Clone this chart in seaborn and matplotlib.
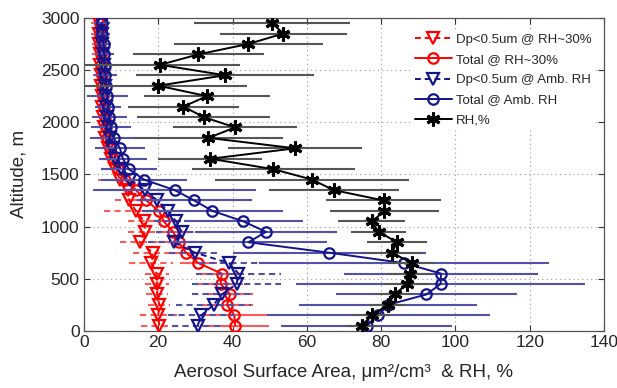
import matplotlib
matplotlib.use("Agg")
import matplotlib.pyplot as plt
import seaborn as sns

# ---------------- data (altitude ascending) ----------------
altitude = [50, 150, 250, 350, 450, 550, 650, 750, 850, 950,
            1050, 1150, 1250, 1350, 1450, 1550, 1650, 1750, 1850, 1950,
            2050, 2150, 2250, 2350, 2450, 2550, 2650, 2750, 2850, 2950]

dp_rh30 = [20.3, 20.0, 20.3, 19.7, 19.6, 19.6, 18.1, 18.6, 15.0, 16.5,
           16.2, 14.0, 12.2, 11.9, 9.7, 8.5, 7.2, 6.5, 5.8, 5.5,
           5.2, 5.0, 4.8, 4.6, 4.5, 4.4, 4.2, 4.1, 4.0, 4.0]
dp_rh30_err = [5, 5, 3, 3, 3.2, 3.2, 6, 5.3, 5.2, 4.5,
               4.4, 8.5, 3.8, 5, 6, 4, 3, 3, 2.5, 2.5,
               2, 2, 2, 2, 2, 2, 2, 2, 2, 2]

tot_rh30 = [40.7, 40.5, 38.5, 39.4, 36.8, 37.1, 30.8, 27.5, 25.5, 24.0,
            21.5, 20.2, 16.8, 14.0, 11.0, 9.2, 7.8, 7.0, 6.2, 6.0,
            5.6, 5.4, 5.1, 5.0, 4.9, 4.7, 4.5, 4.4, 4.3, 4.2]
tot_rh30_err = [9, 9, 7, 6, 6, 5.5, 5, 5, 5, 4.5,
                4.5, 4, 3.5, 3, 3, 2.5, 2.5, 2.5, 2, 2,
                2, 2, 2, 2, 2, 2, 2, 2, 2, 2]

dp_amb = [30.6, 31.6, 34.9, 37.1, 41.1, 41.6, 39.1, 29.9, 24.2, 26.3,
          24.8, 22.5, 19.8, 16.4, 12.5, 10.0, 8.5, 7.5, 7.0, 6.5,
          6.2, 6.0, 5.8, 5.6, 5.5, 5.3, 5.2, 5.0, 5.0, 4.9]
dp_amb_err = [7, 9, 10, 8, 12, 11.5, 8, 7, 7, 7,
              6, 6, 5.5, 5, 4, 3.5, 3, 3, 2.5, 2.5,
              2, 2, 2, 2, 2, 2, 2, 2, 2, 2]

tot_amb = [76.1, 79.2, 81.8, 92.2, 96.0, 96.1, 86.2, 66.0, 44.3, 49.0,
           42.9, 34.6, 29.7, 24.4, 16.2, 12.1, 10.5, 9.7, 8.0, 7.2,
           6.8, 6.5, 6.3, 6.0, 5.8, 5.6, 5.5, 5.3, 5.0, 4.8]
tot_amb_err = [23, 30, 24, 24.4, 39, 26, 39, 26, 21, 19,
               16, 19, 15.5, 22, 11.5, 7.5, 6.5, 6.7, 6.3, 5.4,
               4.7, 3.5, 5.5, 3, 3, 2.5, 2.5, 2, 2, 2]

rh = [74.9, 77.5, 81.8, 83.6, 87.0, 87.9, 88.3, 82.9, 84.3, 79.3,
      77.5, 80.9, 80.7, 67.2, 61.4, 51.0, 34.0, 56.9, 33.5, 40.7,
      32.2, 26.8, 33.1, 20.0, 38.0, 20.5, 30.8, 44.3, 53.7, 50.6]
rh_err = [4, 5, 5, 5, 6, 6, 6, 8, 8, 7.5,
          9, 14.7, 15.5, 17.5, 26, 22, 14, 18, 20, 16.7,
          18, 15, 17, 24, 24, 21.5, 17.7, 20, 17, 21]

labels = ["Dp<0.5um @ RH~30%", "Total @ RH~30%", "Dp<0.5um @ Amb. RH",
          "Total @ Amb. RH", "RH,%"]
xticks = [0, 20, 40, 60, 80, 100, 120, 140]
yticks = [0, 500, 1000, 1500, 2000, 2500, 3000]

# ---------------- style ----------------
sns.set_style("ticks")
plt.rcParams["font.family"] = ["Liberation Sans", "DejaVu Sans"]

fig, ax = plt.subplots(figsize=(6.17, 3.88), dpi=100)
fig.subplots_adjust(left=0.136, right=0.979, top=0.954, bottom=0.147)

RED = "#ff0000"
NAVY = "#14148c"
STAR = (6, 2, 0)
series = [
    (dp_rh30, dp_rh30_err, RED, "#ff5a5a", "v", (0, (3, 2)), 9, labels[0]),
    (tot_rh30, tot_rh30_err, RED, "#ff5a5a", "o", "-", 7.5, labels[1]),
    (dp_amb, dp_amb_err, NAVY, "#5252aa", "v", (0, (3, 2)), 9, labels[2]),
    (tot_amb, tot_amb_err, NAVY, "#5252aa", "o", "-", 7.5, labels[3]),
    (rh, rh_err, "black", "#555555", STAR, "-", 10, labels[4]),
]

for i, (vals, errs, col, bcol, mk, ls, ms, lab) in enumerate(series):
    lo = [v - e for v, e in zip(vals, errs)]
    hi = [v + e for v, e in zip(vals, errs)]
    ax.hlines(altitude, lo, hi, colors=bcol, linestyles=ls, linewidth=1.5,
              zorder=2 + i * 2)
    is_star = mk == STAR
    sns.lineplot(x=vals, y=altitude, orient="y", sort=False, estimator=None,
                 errorbar=None, color=col, marker=mk, markersize=ms,
                 markerfacecolor="black" if is_star else "none",
                 markeredgecolor=col,
                 markeredgewidth=2.2 if is_star else 1.6,
                 linestyle=ls, linewidth=1.4, label=lab, ax=ax,
                 zorder=3 + i * 2)

ax.set_xlim(0, 140)
ax.set_ylim(0, 3000)
ax.set_xticks(xticks)
ax.set_yticks(yticks)
ax.tick_params(direction="in", top=True, right=True, labelsize=12.5,
               length=4, color="#333333", pad=3)
for sp in ax.spines.values():
    sp.set_visible(True)
    sp.set_color("#555555")
    sp.set_linewidth(0.9)
ax.grid(True, linestyle=(0, (1, 3)), color="#999999", linewidth=0.8)
ax.set_axisbelow(True)

ax.set_xlabel("Aerosol Surface Area, μm²/cm³  & RH, %", fontsize=13.5, labelpad=10)
ax.set_ylabel("Altitude, m", fontsize=13.5, labelpad=10)

h, l = ax.get_legend_handles_labels()
leg = ax.legend(h, l, loc="upper left", bbox_to_anchor=(412 / 617, 1 - 31 / 388),
                bbox_transform=fig.transFigure, frameon=True, fontsize=9.5,
                handlelength=2.8, handletextpad=0.3, labelspacing=0.6,
                borderpad=0.2, borderaxespad=0)
leg.get_frame().set_edgecolor("white")
leg.get_frame().set_facecolor("white")
leg.get_frame().set_alpha(1)
leg.set_zorder(20)

fig.savefig("out.png", dpi=100)
